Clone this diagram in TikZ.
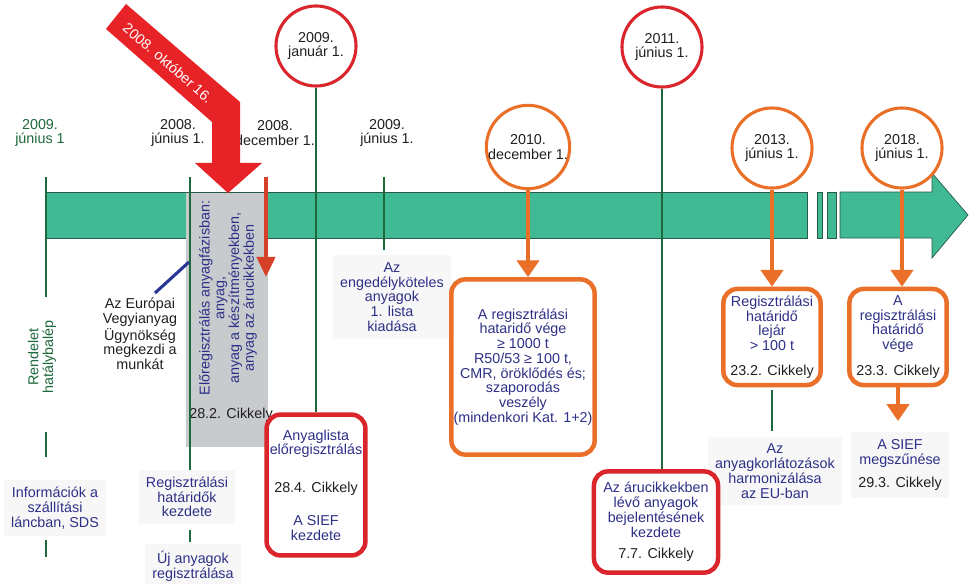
\documentclass[tikz,border=0pt]{standalone}
\usepackage{fontspec}
\setmainfont{Liberation Sans}
\usepackage{xcolor}
\usetikzlibrary{arrows.meta,positioning,calc}
\definecolor{tlband}{RGB}{64,185,149}
\definecolor{tlbandline}{RGB}{40,90,70}
\definecolor{tldgreen}{RGB}{30,105,60}
\definecolor{tlred}{RGB}{218,37,44}
\definecolor{tlarrowred}{RGB}{232,35,40}
\definecolor{tldownred}{RGB}{214,64,40}
\definecolor{tlorange}{RGB}{234,112,42}
\definecolor{tlnavy}{RGB}{46,48,135}
\definecolor{tlgray}{RGB}{200,203,206}
\definecolor{tlink}{RGB}{35,31,32}
\definecolor{tlblue}{RGB}{40,55,150}
\newcommand{\tlfont}{\fontsize{10.2}{10.5}\selectfont}
\newcommand{\blk}[1]{\textcolor{tlink}{#1}}
\tikzset{
  tltext/.style={align=center, font=\tlfont, inner sep=0pt},
  tllabel/.style={tltext, text=tlnavy, fill=black!3, inner sep=5pt},
  tldate/.style={circle, draw=tlred, line width=2.2pt, fill=white, minimum size=2cm, align=center, font=\tlfont, text=tlink, inner sep=0pt},
  tldatelate/.style={tldate, draw=tlorange},
  tlbox/.style={draw=tlred, rounded corners=0.35cm, line width=3.2pt, fill=white, align=center, font=\tlfont, text=tlnavy, inner sep=0pt},
  tlboxlate/.style={tlbox, draw=tlorange},
  tltick/.style={draw=tldgreen, line width=2.1pt},
  tlarrow/.style={draw=tlorange, line width=3pt, -{Triangle[length=0.42cm,width=0.55cm]}},
  tldown/.style={draw=tldownred, line width=2.8pt, -{Triangle[length=0.5cm,width=0.45cm]}},
}
\begin{document}
\begin{tikzpicture}[x=0.025cm,y=-0.025cm]
  \useasboundingbox (0,0) rectangle (972,584);
  \fill[white] (0,0) rectangle (972,584);

  \filldraw[fill=tlband, draw=tlbandline, line width=0.5pt] (46,192) rectangle (807,238);
  \filldraw[fill=tlband, draw=tlbandline, line width=0.5pt] (817,192) rectangle (822,238);
  \filldraw[fill=tlband, draw=tlbandline, line width=0.5pt] (827,192) rectangle (836,238);
  \filldraw[fill=tlband, draw=tlbandline, line width=0.5pt]
    (840,192) -- (932,192) -- (932,173) -- (968,215) -- (932,258) -- (932,238) -- (840,238) -- cycle;

  \fill[tlgray] (186,193) rectangle (268,447);

  \node[tltext, text=tldgreen] (d0906) at (40,133) {2009.\\június 1};
  \node[tltext, text=tlink] (d0806) at (178,133) {2008.\\június 1.};
  \node[tltext, text=tlink] (d0812) at (275,133) {2008.\\december 1.};
  \node[tltext, text=tlink] (d0906b) at (387,133) {2009.\\június 1.};

  \node[tltext, text=tldgreen, rotate=90] (tRendelet) at (42,357) {Rendelet\\hatálybalép};
  \node[tltext, text=tlink] (tEuropai) at (140,334) {Az Európai\\Vegyianyag\\Ügynökség\\megkezdi a\\munkát};
  \node[tllabel] (tInfo) at (55,508) {Információk a\\szállítási\\láncban, SDS};
  \node[tllabel] (tRegKezd) at (187,497) {Regisztrálási\\határidők\\kezdete};
  \node[tllabel] (tUj) at (193,566) {Új anyagok\\regisztrálása};
  \node[tltext, text=tlnavy, rotate=90] (tGray) at (228,298)
    {Előregisztrálás anyagfázisban:\\anyag,\\anyag a készítményekben,\\anyag az árucikkekben};
  \node[tltext, text=tlink] (t282) at (231,415) {28.2. Cikkely};
  \node[tllabel] (tEngedely) at (392,297) {Az\\engedélyköteles\\anyagok\\1. lista\\kiadása};
  \node[tllabel] (tEU) at (775,471) {Az\\anyagkorlátozások\\harmonizálása\\az EU-ban};
  \node[tllabel] (tSIEF) at (900,465) {A SIEF\\megszűnése\\[6pt]\blk{29.3. Cikkely}};

  \coordinate (g46a) at (46,177);
  \coordinate (g46b) at (46,297);
  \coordinate (g46c) at (46,432);
  \coordinate (g46d) at (46,457);
  \coordinate (g46e) at (46,540);
  \coordinate (g46f) at (46,557);
  \coordinate (g190a) at (190,177);
  \coordinate (g384a) at (384,177);
  \coordinate (g384b) at (384,250);
  \coordinate (r266a) at (266,177);
  \coordinate (r266b) at (266,277);
  \coordinate (bl1) at (189,262);
  \coordinate (bl2) at (155,293);

  \draw[tltick] (g46a) -- (g46b);
  \draw[tltick] (g46c) -- (g46d);
  \draw[tltick] (g46e) -- (g46f);
  \draw[tltick] (g190a) -- (g190a |- tRegKezd.north);
  \draw[tltick, shorten <=4pt, shorten >=1pt] (tRegKezd.south -| g190a) -- (tUj.north -| g190a);
  \draw[tltick] (g384a) -- (g384b);
  \draw[tldown] (r266a) -- (r266b);
  \draw[tlblue, line width=2.2pt] (bl1) -- (bl2);

  \fill[tlarrowred] (106,29) -- (126,4) -- (240,102) -- (240,163) -- (262,163) -- (228,193)
    -- (195,163) -- (212,163) -- (212,122) -- cycle;
  \node[tltext, text=white, rotate=-41] (tOkt) at (168,63) {2008. október 16.};

  \node[tldate] (c0901) at (316,46) {2009.\\január 1.};
  \node[tldatelate] (c1012) at (528,147) {2010.\\december 1.};
  \node[tldate] (c1106) at (662,47) {2011.\\június 1.};
  \node[tldatelate] (c1306) at (772,148) {2013.\\június 1.};
  \node[tldatelate] (c1806) at (902,148) {2018.\\június 1.};

  \node[tlbox, minimum width=2.47cm, minimum height=3.52cm] (bAnyag) at (316,485)
    {Anyaglista\\előregisztrálás\\[16pt]\blk{28.4. Cikkely}\\[13pt]A SIEF\\kezdete};
  \node[tlboxlate, minimum width=3.58cm, minimum height=4.38cm] (bHatar) at (523,367)
    {A regisztrálási\\hataridő vége\\≥ 1000 t\\R50/53 ≥ 100 t,\\CMR, öröklődés és;\\szaporodás\\veszély\\(mindenkori Kat. 1+2)};
  \node[tlbox, minimum width=3.1cm, minimum height=2.53cm] (bAru) at (656,522)
    {Az árucikkekben\\lévő anyagok\\bejelentésének\\kezdete\\[5pt]\blk{7.7. Cikkely}};
  \node[tlboxlate, minimum width=2.43cm, minimum height=2.4cm] (bLejar) at (772,337)
    {Regisztrálási\\határidő\\lejár\\> 100 t\\[7pt]\blk{23.2. Cikkely}};
  \node[tlboxlate, minimum width=2.43cm, minimum height=2.4cm] (bVege) at (898,337)
    {A\\regisztrálási\\határidő\\vége\\[8pt]\blk{23.3. Cikkely}};

  \draw[tltick] (c0901.south) -- (bAnyag.north);
  \draw[tlarrow] (c1012.south) -- (c1012.south |- bHatar.north);
  \draw[tltick] (c1106.south) -- (c1106.south |- bAru.north);
  \draw[tlarrow] (c1306.south) -- (c1306.south |- bLejar.north);
  \draw[tlarrow] (c1806.south) -- (c1806.south |- bVege.north);
  \draw[tltick, shorten <=2pt, shorten >=4pt] (bLejar.south) -- (bLejar.south |- tEU.north);
  \draw[tlarrow, shorten >=8pt] (bVege.south) -- (bVege.south |- tSIEF.north);
\end{tikzpicture}
\end{document}
